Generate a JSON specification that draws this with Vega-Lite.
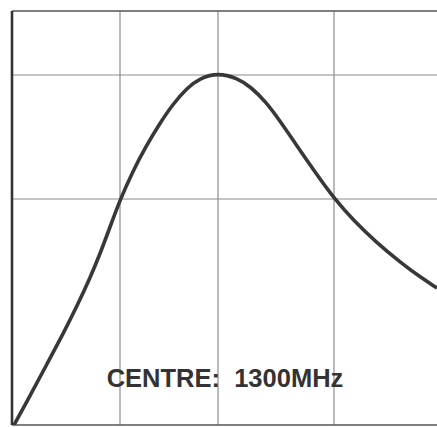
{
  "$schema": "https://vega.github.io/schema/vega-lite/v6.json",
  "width": 425,
  "height": 414,
  "autosize": {"type": "none"},
  "padding": {"left": 12, "top": 11, "right": 0, "bottom": 2},
  "background": "white",
  "config": {"view": {"stroke": null}},
  "datasets": {
    "vgrid": [{"gx": 120}, {"gx": 218}, {"gx": 334}],
    "hgrid": [{"gy": 75}, {"gy": 199}],
    "frameH": [{"gy": 11}, {"gy": 425}],
    "frameV": [{"gx": 12}],
    "curve": [
      {"f": 14, "a": 425}, {"f": 31, "a": 394}, {"f": 47, "a": 364}, {"f": 63, "a": 334},
      {"f": 77, "a": 306}, {"f": 90, "a": 278}, {"f": 100, "a": 254}, {"f": 110, "a": 227},
      {"f": 120, "a": 200}, {"f": 133, "a": 171}, {"f": 145, "a": 148},
      {"f": 160, "a": 123}, {"f": 173, "a": 104}, {"f": 187, "a": 88}, {"f": 200, "a": 78},
      {"f": 218, "a": 73}, {"f": 237, "a": 78}, {"f": 251, "a": 87}, {"f": 266, "a": 102},
      {"f": 280, "a": 121}, {"f": 293, "a": 140}, {"f": 317, "a": 175}, {"f": 333, "a": 197},
      {"f": 353, "a": 220}, {"f": 377, "a": 243}, {"f": 400, "a": 262}, {"f": 420, "a": 277},
      {"f": 437, "a": 288}
    ],
    "label": [{"f": 225, "a": 387, "t": "CENTRE:\u00a0 1300MHz"}]
  },
  "layer": [
    {
      "data": {"name": "vgrid"},
      "mark": {"type": "rule", "color": "#8c8c8c", "strokeWidth": 1.2},
      "encoding": {"x": {"field": "gx", "type": "quantitative", "scale": {"domain": [12, 437], "zero": false, "nice": false}, "axis": null}}
    },
    {
      "data": {"name": "hgrid"},
      "mark": {"type": "rule", "color": "#8c8c8c", "strokeWidth": 1.2},
      "encoding": {"y": {"field": "gy", "type": "quantitative", "scale": {"domain": [11, 425], "reverse": true, "zero": false, "nice": false}, "axis": null}}
    },
    {
      "data": {"name": "frameH"},
      "mark": {"type": "rule", "color": "#555555", "strokeWidth": 1.6},
      "encoding": {"y": {"field": "gy", "type": "quantitative", "scale": {"domain": [11, 425], "reverse": true, "zero": false, "nice": false}, "axis": null}}
    },
    {
      "data": {"name": "frameV"},
      "mark": {"type": "rule", "color": "#333333", "strokeWidth": 2.6},
      "encoding": {"x": {"field": "gx", "type": "quantitative", "scale": {"domain": [12, 437], "zero": false, "nice": false}, "axis": null}}
    },
    {
      "data": {"name": "curve"},
      "mark": {"type": "line", "color": "#383838", "strokeWidth": 3.6, "interpolate": "basis", "clip": true},
      "encoding": {
        "x": {"field": "f", "type": "quantitative", "scale": {"domain": [12, 437], "zero": false, "nice": false}, "axis": null},
        "y": {"field": "a", "type": "quantitative", "scale": {"domain": [11, 425], "reverse": true, "zero": false, "nice": false}, "axis": null}
      }
    },
    {
      "data": {"name": "label"},
      "mark": {"type": "text", "font": "Liberation Sans", "fontWeight": "bold", "fontSize": 25.5, "color": "#333333", "align": "center", "baseline": "alphabetic"},
      "encoding": {
        "x": {"field": "f", "type": "quantitative", "scale": {"domain": [12, 437], "zero": false, "nice": false}, "axis": null},
        "y": {"field": "a", "type": "quantitative", "scale": {"domain": [11, 425], "reverse": true, "zero": false, "nice": false}, "axis": null},
        "text": {"field": "t"}
      }
    }
  ]
}
